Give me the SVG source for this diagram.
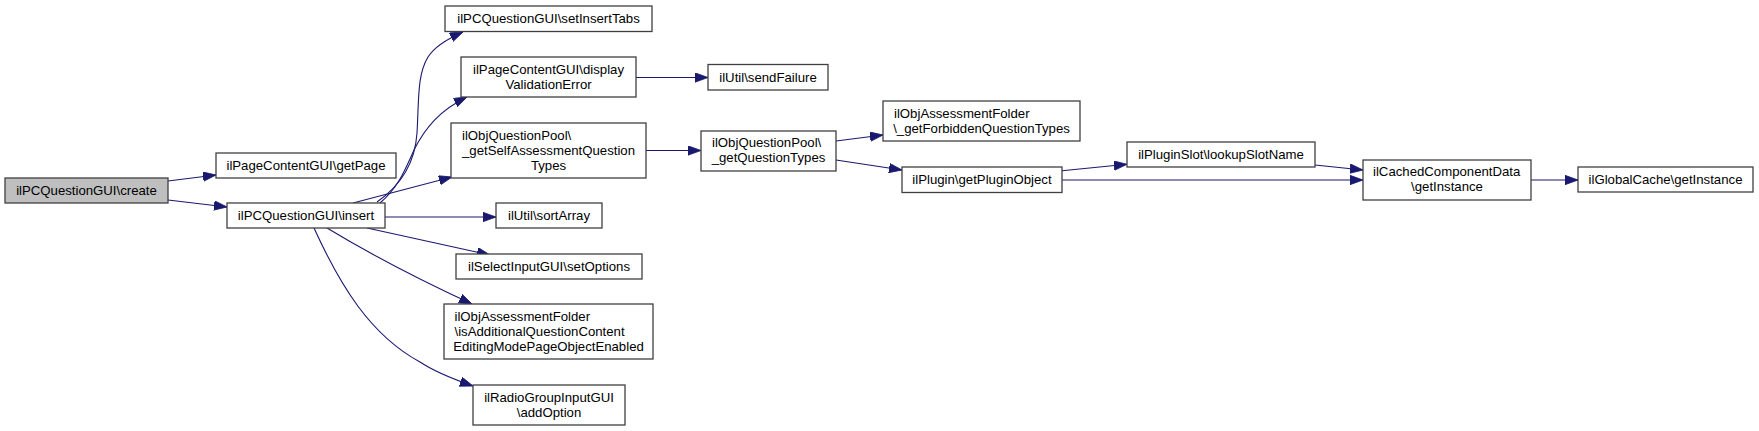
<svg xmlns="http://www.w3.org/2000/svg" width="1759" height="431" viewBox="0 0 1759 431">
<style>
.n rect{fill:#ffffff;stroke:#404040;stroke-width:1.3}
.n text{font-family:"Liberation Sans",Arial,Helvetica,sans-serif;font-size:13.2px;fill:#000000}
.m{text-anchor:middle}
.s{text-anchor:start}
#edges path{fill:none;stroke:#191970;stroke-width:1.1;marker-end:url(#arr)}
</style>
<defs>
<marker id="arr" markerUnits="userSpaceOnUse" markerWidth="14" markerHeight="10" refX="13" refY="4.7" orient="auto">
<path d="M0,0 L13,4.7 L0,9.4 z" fill="#191970" stroke="#191970" stroke-width="0.8"/>
</marker>
</defs>
<rect width="1759" height="431" fill="#ffffff"/>
<g id="edges">
<path d="M168,181 L216,175"/>
<path d="M168,200 L227,207"/>
<path d="M377,202 C400,186 415,165 417,133 C419,100 417,75 428,57 C435,46 447,39 463,32"/>
<path d="M380,203 C398,188 405,170 414,150 C425,128 440,110 467,97"/>
<path d="M353,203 L452,177"/>
<path d="M385,217 L496,217"/>
<path d="M367,228 L490,255"/>
<path d="M327,228 C370,254 420,280 472,304"/>
<path d="M314,228 C340,285 370,335 420,362 C435,372 450,378 473,386"/>
<path d="M636,77.5 L708,77.5"/>
<path d="M646,150.5 L701,150.5"/>
<path d="M836,141 L883,135"/>
<path d="M836,160 L902,170"/>
<path d="M1062,170.7 L1127,164.3"/>
<path d="M1062,180 L1363,180"/>
<path d="M1315,165 L1363,170"/>
<path d="M1531,180 L1578,180"/>
</g>
<g id="node-create" class="n"><rect x="5" y="178" width="163" height="25" style="fill:#bfbfbf"/><text class="m" x="86.5" y="195">ilPCQuestionGUI\create</text></g>
<g id="node-getPage" class="n"><rect x="216" y="153" width="180" height="25"/><text class="m" x="306" y="170">ilPageContentGUI\getPage</text></g>
<g id="node-insert" class="n"><rect x="227" y="203" width="158" height="25"/><text class="m" x="306" y="220">ilPCQuestionGUI\insert</text></g>
<g id="node-setInsertTabs" class="n"><rect x="445" y="6" width="207" height="25.5"/><text class="m" x="548.5" y="23">ilPCQuestionGUI\setInsertTabs</text></g>
<g id="node-display" class="n"><rect x="461" y="57" width="175" height="40"/><text class="m" x="548.5" y="73.5">ilPageContentGUI\display</text><text class="m" x="548.5" y="88.5">ValidationError</text></g>
<g id="node-selfAssessment" class="n"><rect x="451" y="123" width="195" height="55"/><text class="s" x="462" y="140">ilObjQuestionPool\</text><text class="m" x="548.5" y="155">_getSelfAssessmentQuestion</text><text class="m" x="548.5" y="170">Types</text></g>
<g id="node-sortArray" class="n"><rect x="496" y="203" width="106" height="25"/><text class="m" x="549" y="220">ilUtil\sortArray</text></g>
<g id="node-setOptions" class="n"><rect x="456" y="254" width="186" height="25"/><text class="m" x="549" y="271">ilSelectInputGUI\setOptions</text></g>
<g id="node-isAdditional" class="n"><rect x="444" y="304" width="209" height="55"/><text class="s" x="454.5" y="321">ilObjAssessmentFolder</text><text class="s" x="454.5" y="336">\isAdditionalQuestionContent</text><text class="m" x="548.5" y="351">EditingModePageObjectEnabled</text></g>
<g id="node-addOption" class="n"><rect x="473" y="385" width="152" height="40"/><text class="m" x="549" y="401.5">ilRadioGroupInputGUI</text><text class="m" x="549" y="416.5">\addOption</text></g>
<g id="node-sendFailure" class="n"><rect x="708" y="64.5" width="120" height="25.5"/><text class="m" x="768" y="81.5">ilUtil\sendFailure</text></g>
<g id="node-getQuestionTypes" class="n"><rect x="701" y="131" width="135" height="40"/><text class="s" x="712" y="147">ilObjQuestionPool\</text><text class="m" x="768.5" y="162">_getQuestionTypes</text></g>
<g id="node-forbidden" class="n"><rect x="883" y="101" width="197" height="40"/><text class="s" x="894" y="117.5">ilObjAssessmentFolder</text><text class="m" x="981.5" y="132.5">\_getForbiddenQuestionTypes</text></g>
<g id="node-getPluginObject" class="n"><rect x="902" y="167" width="160" height="25.5"/><text class="m" x="982" y="184">ilPlugin\getPluginObject</text></g>
<g id="node-lookupSlotName" class="n"><rect x="1127" y="142" width="188" height="25"/><text class="m" x="1221" y="159">ilPluginSlot\lookupSlotName</text></g>
<g id="node-cached" class="n"><rect x="1363" y="160" width="168" height="40"/><text class="s" x="1373" y="176">ilCachedComponentData</text><text class="m" x="1447" y="191">\getInstance</text></g>
<g id="node-globalCache" class="n"><rect x="1578" y="167" width="175" height="25"/><text class="m" x="1665.5" y="184">ilGlobalCache\getInstance</text></g>
</svg>
